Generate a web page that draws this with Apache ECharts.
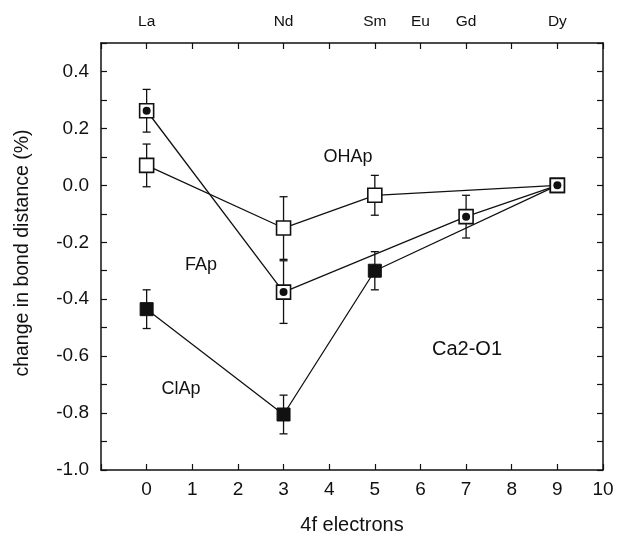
<!DOCTYPE html>
<html>
<head>
<meta charset="utf-8">
<script src="https://cdn.jsdelivr.net/npm/echarts@6/dist/echarts.min.js"></script>
<style>html,body{margin:0;padding:0;background:#fff;}#c{width:619px;height:538px;}</style>
</head>
<body>
<div id="c"></div>
<script>
// 4f electron counts for each element
const ohapX = [0, 3, 5, 9];
const ohapY = [0.07, -0.15, -0.035, 0.0];
const ohapErr = [0.075, 0.11, 0.07, 0];

const fapX = [0, 3, 7, 9];
const fapY = [0.262, -0.375, -0.11, 0.0];
const fapErr = [0.075, 0.11, 0.075, 0];

const clapX = [0, 3, 5, 9];
const clapY = [-0.435, -0.805, -0.30, 0.0];
const clapErr = [0.068, 0.068, 0.067, 0];

const topTickLabels = {0: 'La', 3: 'Nd', 5: 'Sm', 6: 'Eu', 7: 'Gd', 9: 'Dy'};

const FONT = 'Liberation Sans, Arial, sans-serif';
const pts = (xs, ys) => xs.map((x, i) => [x, ys[i]]);
const errs = (xs, ys, es) => xs.map((x, i) => [x, ys[i] - es[i], ys[i] + es[i]]).filter((d, i) => es[i] > 0);

function renderErr(params, api) {
  const x = api.value(0), lo = api.value(1), hi = api.value(2);
  const a = api.coord([x, hi]), b = api.coord([x, lo]);
  const w = 4;
  const st = {stroke: '#111', lineWidth: 1.3};
  return {type: 'group', children: [
    {type: 'line', shape: {x1: a[0], y1: a[1], x2: b[0], y2: b[1]}, style: st},
    {type: 'line', shape: {x1: a[0] - w, y1: a[1], x2: a[0] + w, y2: a[1]}, style: st},
    {type: 'line', shape: {x1: b[0] - w, y1: b[1], x2: b[0] + w, y2: b[1]}, style: st}
  ]};
}

const axisCommon = {
  axisLine: {onZero: false, lineStyle: {color: '#111', width: 1.5}},
  axisTick: {inside: true, length: 6, lineStyle: {color: '#111', width: 1.2}},
  splitLine: {show: false}
};

const txt = (t, x, y, size) => ({type: 'text', x: x, y: y,
  style: {text: t, fontFamily: FONT, fontSize: size, fill: '#111', align: 'center', verticalAlign: 'middle'}});

const chart = echarts.init(document.getElementById('c'));
chart.setOption({
  animation: false,
  grid: {left: 101, right: 16, top: 43, bottom: 68, containLabel: false, outerBoundsMode: 'none'},
  xAxis: [
    Object.assign({
      type: 'value', min: -1, max: 10, interval: 1, position: 'bottom',
      name: '4f electrons', nameLocation: 'middle', nameGap: 45,
      nameTextStyle: {fontFamily: FONT, fontSize: 20, color: '#111'},
      axisLabel: {fontFamily: FONT, fontSize: 19, color: '#111', margin: 10,
        formatter: v => (v < 0 ? '' : String(v))}
    }, axisCommon),
    Object.assign({
      type: 'value', min: -1, max: 10, interval: 1, position: 'top',
      axisLabel: {fontFamily: FONT, fontSize: 15.5, color: '#111', margin: 13,
        formatter: v => topTickLabels[v] || ''}
    }, axisCommon)
  ],
  yAxis: [
    Object.assign({
      type: 'value', min: -1, max: 0.5, interval: 0.1, position: 'left',
      axisLabel: {fontFamily: FONT, fontSize: 19, color: '#111', margin: 12,
        formatter: v => (Math.round(v * 10) % 2 === 0 ? v.toFixed(1) : '')}
    }, axisCommon),
    Object.assign({
      type: 'value', min: -1, max: 0.5, interval: 0.1, position: 'right',
      axisLabel: {show: false}
    }, axisCommon)
  ],
  graphic: [
    {type: 'text', x: 23, y: 253, rotation: Math.PI / 2,
      style: {text: 'change in bond distance (%)', fontFamily: FONT, fontSize: 19.5, fill: '#111', align: 'center', verticalAlign: 'middle'}},
    txt('OHAp', 348, 157, 18),
    txt('FAp', 201, 265, 18),
    txt('ClAp', 181, 389, 18),
    txt('Ca2-O1', 467, 349, 20)
  ],
  series: [
    {type: 'custom', name: 'ClAp err', renderItem: renderErr, data: errs(clapX, clapY, clapErr), z: 1},
    {type: 'custom', name: 'OHAp err', renderItem: renderErr, data: errs(ohapX, ohapY, ohapErr), z: 1},
    {type: 'custom', name: 'FAp err', renderItem: renderErr, data: errs(fapX, fapY, fapErr), z: 1},
    {type: 'line', name: 'ClAp', data: pts(clapX, clapY), symbol: 'rect', symbolSize: 13, showAllSymbol: true,
      lineStyle: {color: '#111', width: 1.3}, itemStyle: {color: '#111', borderColor: '#111', borderWidth: 1}, z: 2},
    {type: 'line', name: 'OHAp', data: pts(ohapX, ohapY), symbol: 'rect', symbolSize: 14, showAllSymbol: true,
      lineStyle: {color: '#111', width: 1.3}, itemStyle: {color: '#fff', borderColor: '#111', borderWidth: 1.6}, z: 3},
    {type: 'line', name: 'FAp', data: pts(fapX, fapY), symbol: 'rect', symbolSize: 14, showAllSymbol: true,
      lineStyle: {color: '#111', width: 1.3}, itemStyle: {color: '#fff', borderColor: '#111', borderWidth: 1.6}, z: 4},
    {type: 'scatter', name: 'FAp dot', data: pts(fapX, fapY), symbol: 'circle', symbolSize: 8,
      itemStyle: {color: '#111', opacity: 1}, z: 5}
  ]
});
</script>
</body>
</html>
